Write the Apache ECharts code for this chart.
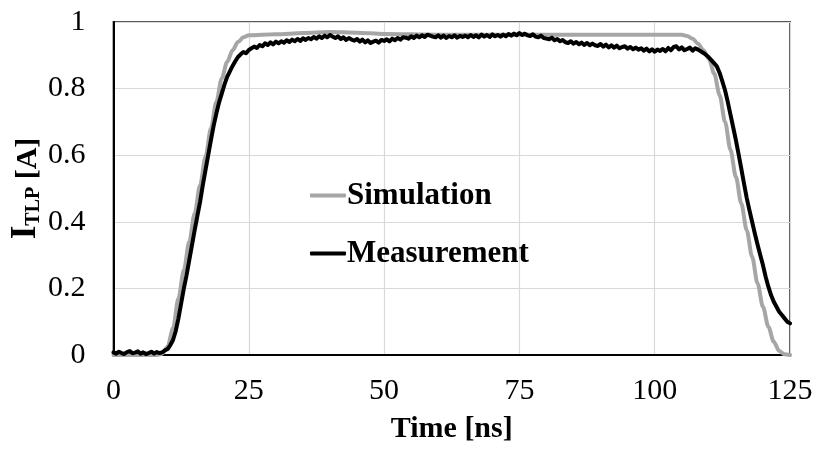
<!DOCTYPE html>
<html>
<head>
<meta charset="utf-8">
<title>TLP current pulse</title>
<script src="https://cdn.jsdelivr.net/npm/echarts@6/dist/echarts.min.js"></script>
<style>
  html, body { margin: 0; padding: 0; background: #fff; }
  #chart { width: 817px; height: 451px; }
</style>
</head>
<body>
<div id="chart"></div>
<script>
// Simulated TLP current (A) at the listed times (ns)
const simTime = [0, 8, 9, 10, 11, 12, 13, 14, 15, 16, 17, 18, 19, 20, 21, 22, 23, 24, 25,
  30, 35, 40, 45, 50, 60, 80, 100, 105, 106, 107, 108, 109, 110, 111, 112, 113, 114,
  115, 116, 117, 118, 119, 120, 121, 122, 123, 124, 125];
const simCurrent = [0, 0, 0.004, 0.025, 0.08, 0.17, 0.255, 0.34, 0.425, 0.51, 0.595, 0.68, 0.76, 0.83, 0.88, 0.915, 0.94, 0.954, 0.960,
  0.963, 0.967, 0.970, 0.968, 0.964, 0.962, 0.962, 0.962, 0.962, 0.958, 0.950, 0.935, 0.915, 0.890, 0.845, 0.780, 0.700, 0.616,
  0.535, 0.455, 0.375, 0.295, 0.215, 0.145, 0.085, 0.040, 0.012, 0.002, 0];

// Measured TLP current (A), sampled every 0.5 ns from 0 to 125 ns
const measStep = 0.5;
const measCurrent = [
  // 0 - 8.5 ns
  0.008, 0.004, 0.010, 0.006, 0.003, 0.009, 0.012, 0.005, 0.007, 0.011, 0.004, 0.008, 0.003, 0.006, 0.010, 0.004, 0.009, 0.006,
  // 9 - 25 ns
  0.008, 0.014, 0.018, 0.030, 0.045, 0.072, 0.110, 0.155, 0.200, 0.240, 0.285, 0.330, 0.375, 0.418, 0.460, 0.510, 0.555,
  0.600, 0.645, 0.688, 0.725, 0.758, 0.785, 0.812, 0.835, 0.852, 0.868, 0.882, 0.895, 0.903, 0.910, 0.906, 0.916,
  // 25.5 - 108 ns
  0.921, 0.926, 0.922, 0.931,
  0.927, 0.936, 0.931, 0.939, 0.933, 0.941, 0.936, 0.942,
  0.938, 0.945, 0.940, 0.947, 0.942, 0.949, 0.943, 0.951, 0.946, 0.952,
  0.948, 0.955, 0.950, 0.957, 0.952, 0.959, 0.954, 0.961,
  0.956, 0.952, 0.957, 0.949, 0.954, 0.946, 0.952, 0.947,
  0.944, 0.949, 0.941, 0.947, 0.939, 0.945, 0.937, 0.941,
  0.944, 0.938, 0.946, 0.943,
  0.948, 0.942, 0.950, 0.945, 0.952, 0.947, 0.954, 0.953,
  0.950, 0.957, 0.952, 0.959, 0.954, 0.960, 0.955, 0.962, 0.959,
  0.956, 0.954, 0.960, 0.953, 0.959, 0.952, 0.958, 0.954, 0.960, 0.953, 0.958, 0.955,
  0.959, 0.954, 0.961, 0.955, 0.960, 0.954, 0.962, 0.956, 0.961, 0.955, 0.963, 0.957, 0.961, 0.956, 0.962,
  0.957, 0.964, 0.959, 0.965, 0.960, 0.967, 0.961, 0.965,
  0.960, 0.958, 0.963, 0.956, 0.954, 0.959, 0.952, 0.950,
  0.948, 0.953, 0.945, 0.949, 0.942, 0.946, 0.939, 0.937,
  0.942, 0.935, 0.940, 0.933, 0.938, 0.931, 0.937, 0.930, 0.935, 0.930,
  0.928, 0.934, 0.926, 0.932, 0.924, 0.930, 0.923, 0.929, 0.921, 0.925,
  0.927, 0.920, 0.925, 0.918, 0.923, 0.917,
  0.921, 0.914, 0.920, 0.912, 0.918, 0.911, 0.917, 0.913,
  0.919, 0.912, 0.922, 0.915, 0.925, 0.927,
  0.918, 0.924, 0.915, 0.919,
  0.923, 0.914, 0.921, 0.917,
  // 108.5 - 112 ns
  0.912, 0.907, 0.901, 0.894, 0.885, 0.876, 0.866, 0.847,
  // 112.5 - 125 ns
  0.822, 0.795, 0.760, 0.722, 0.684, 0.645, 0.603, 0.560, 0.515, 0.472, 0.435, 0.400, 0.365,
  0.332, 0.300, 0.270, 0.235, 0.205, 0.180, 0.160, 0.145, 0.130, 0.120, 0.110, 0.100, 0.095
];

// Axis ticks
const xTicks = { min: 0, max: 125, step: 25 };
const yTicks = { min: 0, max: 1, step: 0.2 };

const serif = '"Liberation Serif", "Times New Roman", serif';

const simData = simTime.map((t, i) => [t, simCurrent[i]]);
const measData = measCurrent.map((v, i) => [i * measStep, v]);

const chart = echarts.init(document.getElementById('chart'), null, { renderer: 'canvas' });

chart.setOption({
  animation: false,
  backgroundColor: '#ffffff',
  grid: {
    left: 113.5, right: 27, top: 22, bottom: 96,
    outerBoundsMode: 'none',
    containLabel: false,
    show: true, borderColor: '#595959', borderWidth: 2, backgroundColor: 'transparent'
  },
  legend: {
    orient: 'vertical',
    left: 305, top: 175,
    itemWidth: 36, itemHeight: 4, itemGap: 27,
    icon: 'roundRect',
    textStyle: { fontFamily: serif, fontSize: 31, fontWeight: 'bold', color: '#000', padding: [0, 0, 0, -4] },
    data: ['Simulation', 'Measurement']
  },
  xAxis: {
    type: 'value',
    min: xTicks.min, max: xTicks.max, interval: xTicks.step,
    name: 'Time [ns]',
    nameLocation: 'middle',
    nameMoveOverlap: false,
    nameGap: 59,
    nameTextStyle: { fontFamily: serif, fontSize: 30, fontWeight: 'bold', color: '#000' },
    axisLine: { show: true, onZero: false, lineStyle: { color: '#000', width: 2 } },
    axisTick: { show: false },
    axisLabel: { fontFamily: serif, fontSize: 30, color: '#000', margin: 21 },
    splitLine: { show: true, lineStyle: { color: '#d9d9d9', width: 1.2 } }
  },
  yAxis: {
    type: 'value',
    min: yTicks.min, max: yTicks.max, interval: yTicks.step,
    name: '{i|I}{s|TLP}{a| [A]}',
    nameLocation: 'middle',
    nameMoveOverlap: false,
    nameGap: 70,
    nameTextStyle: {
      fontFamily: serif, fontWeight: 'bold', color: '#000',
      rich: {
        i: { fontFamily: serif, fontSize: 35, fontWeight: 'bold', color: '#000', verticalAlign: 'bottom', lineHeight: 35 },
        s: { fontFamily: serif, fontSize: 20, fontWeight: 'bold', color: '#000', verticalAlign: 'bottom', lineHeight: 20, padding: [10, 0, 0, 0] },
        a: { fontFamily: serif, fontSize: 30, fontWeight: 'bold', color: '#000', verticalAlign: 'bottom', lineHeight: 33 }
      }
    },
    axisLine: { show: true, lineStyle: { color: '#000', width: 2 } },
    axisTick: { show: false },
    axisLabel: { fontFamily: serif, fontSize: 30, color: '#000', margin: 28 },
    splitLine: { show: true, lineStyle: { color: '#d9d9d9', width: 1.2 } }
  },
  series: [
    {
      name: 'Simulation',
      type: 'line',
      data: simData,
      symbol: 'none',
      smooth: 0.3,
      smoothMonotone: 'x',
      lineStyle: { color: '#a6a6a6', width: 4, cap: 'round' },
      itemStyle: { color: '#a6a6a6' },
      z: 2
    },
    {
      name: 'Measurement',
      type: 'line',
      data: measData,
      symbol: 'none',
      lineStyle: { color: '#000000', width: 4, join: 'round', cap: 'round' },
      itemStyle: { color: '#000000' },
      z: 3
    }
  ]
});
</script>
</body>
</html>
